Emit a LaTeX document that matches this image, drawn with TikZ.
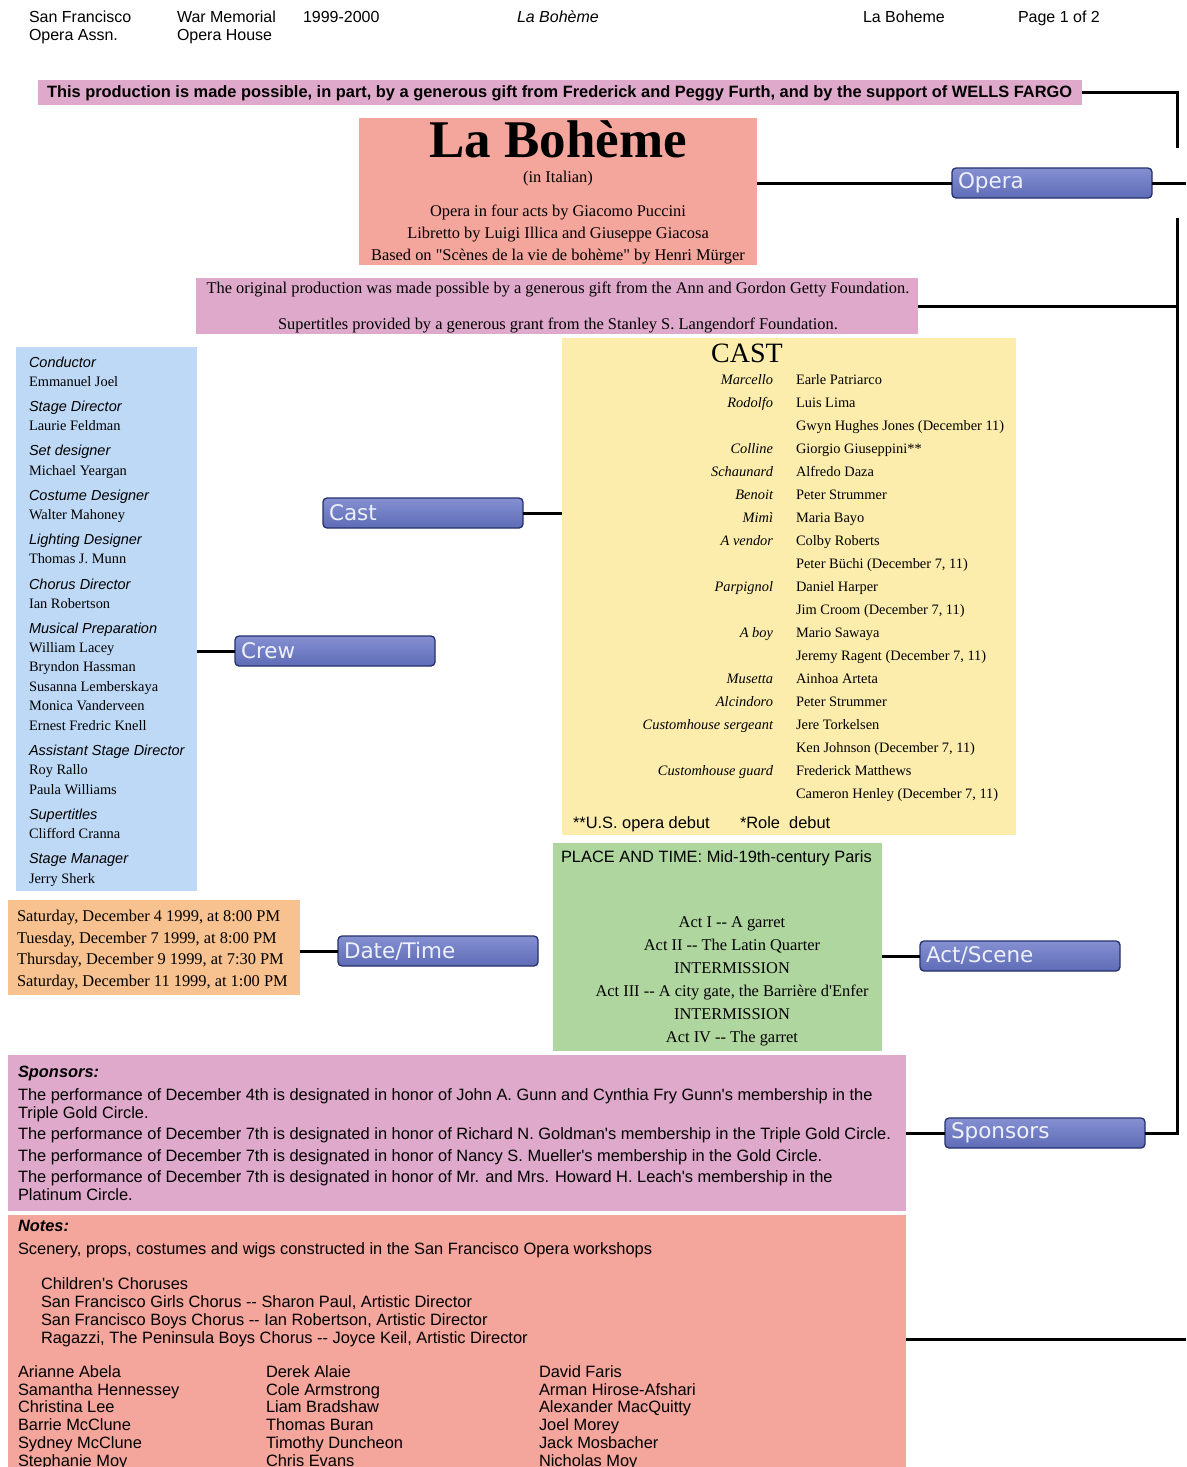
\documentclass[tikz,border=0pt]{standalone}
\usepackage{fontspec}
\setmainfont{Liberation Serif}
\setsansfont{Liberation Sans}
\newfontfamily\btnfont{DejaVu Sans}
\definecolor{pinkc}{HTML}{DEA9CA}
\definecolor{salmonc}{HTML}{F4A59C}
\definecolor{bluec}{HTML}{BED9F6}
\definecolor{yellowc}{HTML}{FCEDAD}
\definecolor{orangec}{HTML}{F7C28F}
\definecolor{greenc}{HTML}{B0D6A0}
\definecolor{btnhi}{HTML}{8590D2}
\definecolor{btnlo}{HTML}{5E6CB6}
\definecolor{btnedge}{HTML}{26316C}
\definecolor{btntext}{HTML}{EEF0FA}
\newcommand\fhd{\sffamily\fontsize{16}{16}\selectfont}
\newcommand\fban{\sffamily\bfseries\fontsize{16.4}{16.4}\selectfont}
\newcommand\fser{\rmfamily\fontsize{16.4}{16.4}\selectfont}
\newcommand\fsm{\rmfamily\fontsize{14.4}{14.4}\selectfont}
\newcommand\fsl{\sffamily\itshape\fontsize{14.5}{14.5}\selectfont}
\newcommand\fss{\sffamily\fontsize{16.4}{16.4}\selectfont}
\newcommand\qq{\textquotedbl}
\newcommand\ap{\textquotesingle}
\tikzset{
  box/.style={anchor=north west, inner sep=0pt, outer sep=0pt, draw=none},
  btn/.style={anchor=north west, draw=btnedge, line width=1.3pt, rounded corners=4pt,
    top color=btnhi, bottom color=btnlo, minimum height=30pt, text width=188pt,
    inner xsep=6pt, inner ysep=0pt, align=left, text=btntext, outer sep=0pt,
    font=\btnfont\fontsize{21.5}{21.5}\selectfont},
  conn/.style={line width=3pt, black},
  tl/.style={anchor=base west, inner sep=0pt, outer sep=0pt},
  tc/.style={anchor=base, inner sep=0pt, outer sep=0pt},
  tr/.style={anchor=base east, inner sep=0pt, outer sep=0pt},
  hd/.style={tl, font=\fhd},
  crewlab/.style={tl, font=\fsl},
  crewnm/.style={tl, font=\fsm},
  castrole/.style={tr, font=\fsm\itshape},
  castnm/.style={tl, font=\fsm},
  ss/.style={tl, font=\fss},
}
\begin{document}
\begin{tikzpicture}[x=1pt,y=-1pt]
\useasboundingbox (0,0) rectangle (1186,1467);
\fill[white] (0,0) rectangle (1186,1467);

% header
\node[hd] (h1) at (29,22) {San Francisco};
\node[hd] (h1b) at (29,40) {Opera Assn.};
\node[hd] (h2) at (177,22) {War Memorial};
\node[hd] (h2b) at (177,40) {Opera House};
\node[hd] (h3) at (303,22) {1999-2000};
\node[hd] (h4) at (517,22) {\itshape La Bohème};
\node[hd] (h5) at (863,22) {La Boheme};
\node[hd] (h6) at (1018,22) {Page 1 of 2};

% boxes
\node[box, fill=pinkc, minimum width=1044pt, minimum height=25pt] (banner) at (38,80) {};
\node[box, fill=salmonc, minimum width=398pt, minimum height=147pt] (title) at (359,118) {};
\node[box, fill=pinkc, minimum width=722pt, minimum height=56pt] (orig) at (196,278) {};
\node[box, fill=bluec, minimum width=181pt, minimum height=544pt] (crewbox) at (16,347) {};
\node[box, fill=yellowc, minimum width=454pt, minimum height=497pt] (castbox) at (562,338) {};
\node[box, fill=orangec, minimum width=292pt, minimum height=95pt] (datebox) at (8,900) {};
\node[box, fill=greenc, minimum width=329pt, minimum height=208pt] (actbox) at (553,843) {};
\node[box, fill=pinkc, minimum width=898pt, minimum height=156pt] (spbox) at (8,1055) {};
\node[box, fill=salmonc, minimum width=898pt, minimum height=252pt] (notesbox) at (8,1215) {};

% buttons
\node[btn] (opera) at (952,168) {Opera};
\node[btn] (cast) at (323,498) {Cast};
\node[btn] (crew) at (235,636) {Crew};
\node[btn] (date) at (338,936) {Date/Time};
\node[btn] (act) at (920,941) {Act/Scene};
\node[btn] (sponsors) at (945,1118) {Sponsors};

% connectors
\coordinate (rt1) at (1177,148);
\coordinate (rtop) at (1177,218);
\coordinate (redge) at (1186,183);
\coordinate (nedge) at (1186,1339);
\draw[conn] (banner.east) -| (rt1);
\draw[conn] (opera.west -| title.east) -- (opera.west);
\draw[conn] (opera.east) -- (redge);
\draw[conn] (rtop) |- (sponsors.east);
\draw[conn] (orig.east) -- (orig.east -| rtop);
\draw[conn] (spbox.east |- sponsors.west) -- (sponsors.west);
\draw[conn] (notesbox.east |- nedge) -- (nedge);
\draw[conn] (crewbox.east |- crew.west) -- (crew.west);
\draw[conn] (cast.east) -- (castbox.west |- cast.east);
\draw[conn] (datebox.east |- date.west) -- (date.west);
\draw[conn] (actbox.east |- act.west) -- (act.west);

% banner text
\node[tl, font=\fban] (bantext) at (47,97) {This production is made possible, in part, by a generous gift from Frederick and Peggy Furth, and by the support of WELLS FARGO};

% title text
\node[tc, font=\rmfamily\bfseries\fontsize{53}{53}\selectfont] (ttl) at (558,157) {La Bohème};
\node[tc, font=\fser] (ttl2) at (558,182) {(in Italian)};
\node[tc, font=\fser] (ttl3) at (558,216) {Opera in four acts by Giacomo Puccini};
\node[tc, font=\fser] (ttl4) at (558,238) {Libretto by Luigi Illica and Giuseppe Giacosa};
\node[tc, font=\fser] (ttl5) at (558,260) {Based on \qq Scènes de la vie de bohème\qq{} by Henri Mürger};

% original production
\node[tc, font=\fser] (or1) at (558,293) {The original production was made possible by a generous gift from the Ann and Gordon Getty Foundation.};
\node[tc, font=\fser] (or2) at (558,329) {Supertitles provided by a generous grant from the Stanley S. Langendorf Foundation.};

% crew
\node[crewlab] (cr1) at (29,367) {Conductor};
\node[crewnm] (cr2) at (29,386) {Emmanuel Joel};
\node[crewlab] (cr3) at (29,411) {Stage Director};
\node[crewnm] (cr4) at (29,430) {Laurie Feldman};
\node[crewlab] (cr5) at (29,455) {Set designer};
\node[crewnm] (cr6) at (29,475) {Michael Yeargan};
\node[crewlab] (cr7) at (29,500) {Costume Designer};
\node[crewnm] (cr8) at (29,519) {Walter Mahoney};
\node[crewlab] (cr9) at (29,544) {Lighting Designer};
\node[crewnm] (cr10) at (29,563) {Thomas J. Munn};
\node[crewlab] (cr11) at (29,589) {Chorus Director};
\node[crewnm] (cr12) at (29,608) {Ian Robertson};
\node[crewlab] (cr13) at (29,633) {Musical Preparation};
\node[crewnm] (cr14) at (29,652) {William Lacey};
\node[crewnm] (cr15) at (29,671) {Bryndon Hassman};
\node[crewnm] (cr16) at (29,691) {Susanna Lemberskaya};
\node[crewnm] (cr17) at (29,710) {Monica Vanderveen};
\node[crewnm] (cr18) at (29,730) {Ernest Fredric Knell};
\node[crewlab] (cr19) at (29,755) {Assistant Stage Director};
\node[crewnm] (cr20) at (29,774) {Roy Rallo};
\node[crewnm] (cr21) at (29,794) {Paula Williams};
\node[crewlab] (cr22) at (29,819) {Supertitles};
\node[crewnm] (cr23) at (29,838) {Clifford Cranna};
\node[crewlab] (cr24) at (29,863) {Stage Manager};
\node[crewnm] (cr25) at (29,883) {Jerry Sherk};

% cast
\node[tc, font=\rmfamily\fontsize{28}{28}\selectfont] (casttitle) at (747,362) {CAST};
\node[castrole] (r1) at (773,384) {Marcello};
\node[castrole] (r2) at (773,407) {Rodolfo};
\node[castrole] (r4) at (773,453) {Colline};
\node[castrole] (r5) at (773,476) {Schaunard};
\node[castrole] (r6) at (773,499) {Benoit};
\node[castrole] (r7) at (773,522) {Mimì};
\node[castrole] (r8) at (773,545) {A vendor};
\node[castrole] (r10) at (773,591) {Parpignol};
\node[castrole] (r12) at (773,637) {A boy};
\node[castrole] (r14) at (773,683) {Musetta};
\node[castrole] (r15) at (773,706) {Alcindoro};
\node[castrole] (r16) at (773,729) {Customhouse sergeant};
\node[castrole] (r18) at (773,775) {Customhouse guard};
\node[castnm] (n1) at (796,384) {Earle Patriarco};
\node[castnm] (n2) at (796,407) {Luis Lima};
\node[castnm] (n3) at (796,430) {Gwyn Hughes Jones (December 11)};
\node[castnm] (n4) at (796,453) {Giorgio Giuseppini**};
\node[castnm] (n5) at (796,476) {Alfredo Daza};
\node[castnm] (n6) at (796,499) {Peter Strummer};
\node[castnm] (n7) at (796,522) {Maria Bayo};
\node[castnm] (n8) at (796,545) {Colby Roberts};
\node[castnm] (n9) at (796,568) {Peter Büchi (December 7, 11)};
\node[castnm] (n10) at (796,591) {Daniel Harper};
\node[castnm] (n11) at (796,614) {Jim Croom (December 7, 11)};
\node[castnm] (n12) at (796,637) {Mario Sawaya};
\node[castnm] (n13) at (796,660) {Jeremy Ragent (December 7, 11)};
\node[castnm] (n14) at (796,683) {Ainhoa Arteta};
\node[castnm] (n15) at (796,706) {Peter Strummer};
\node[castnm] (n16) at (796,729) {Jere Torkelsen};
\node[castnm] (n17) at (796,752) {Ken Johnson (December 7, 11)};
\node[castnm] (n18) at (796,775) {Frederick Matthews};
\node[castnm] (n19) at (796,798) {Cameron Henley (December 7, 11)};
\node[ss] (cf1) at (573,828) {**U.S. opera debut};
\node[ss] (cf2) at (740,828) {*Role\ \ debut};

% date/time
\node[tl, font=\fser] (d1) at (17,921) {Saturday, December 4 1999, at 8:00 PM};
\node[tl, font=\fser] (d2) at (17,943) {Tuesday, December 7 1999, at 8:00 PM};
\node[tl, font=\fser] (d3) at (17,964) {Thursday, December 9 1999, at 7:30 PM};
\node[tl, font=\fser] (d4) at (17,986) {Saturday, December 11 1999, at 1:00 PM};

% act/scene
\node[ss] (pl) at (561,862) {PLACE AND TIME:\ Mid-19th-century Paris};
\node[tc, font=\fser] (a1) at (732,927) {Act I -{}- A garret};
\node[tc, font=\fser] (a2) at (732,950) {Act II -{}- The Latin Quarter};
\node[tc, font=\fser] (a3) at (732,973) {INTERMISSION};
\node[tc, font=\fser] (a4) at (732,996) {Act III -{}- A city gate, the Barrière d\ap Enfer};
\node[tc, font=\fser] (a5) at (732,1019) {INTERMISSION};
\node[tc, font=\fser] (a6) at (732,1042) {Act IV -{}- The garret};

% sponsors
\node[ss, font=\fss\bfseries\itshape] (sp0) at (18,1077) {Sponsors:};
\node[ss] (sp1) at (18,1100) {The performance of December 4th is designated in honor of John A. Gunn and Cynthia Fry Gunn\ap s membership in the};
\node[ss] (sp1b) at (18,1118) {Triple Gold Circle.};
\node[ss] (sp2) at (18,1139) {The performance of December 7th is designated in honor of Richard N. Goldman\ap s membership in the Triple Gold Circle.};
\node[ss] (sp3) at (18,1161) {The performance of December 7th is designated in honor of Nancy S. Mueller\ap s membership in the Gold Circle.};
\node[ss] (sp4) at (18,1182) {The performance of December 7th is designated in honor of Mr. and Mrs. Howard H. Leach\ap s membership in the};
\node[ss] (sp4b) at (18,1200) {Platinum Circle.};

% notes
\node[ss, font=\fss\bfseries\itshape] (nt0) at (18,1231) {Notes:};
\node[ss] (nt1) at (18,1254) {Scenery, props, costumes and wigs constructed in the San Francisco Opera workshops};
\node[ss] (nt2) at (41,1289) {Children\ap s Choruses};
\node[ss] (nt3) at (41,1307) {San Francisco Girls Chorus -{}- Sharon Paul, Artistic Director};
\node[ss] (nt4) at (41,1325) {San Francisco Boys Chorus -{}- Ian Robertson, Artistic Director};
\node[ss] (nt5) at (41,1343) {Ragazzi, The Peninsula Boys Chorus -{}- Joyce Keil, Artistic Director};
\node[ss] (c11) at (18,1377) {Arianne Abela};
\node[ss] (c12) at (18,1395) {Samantha Hennessey};
\node[ss] (c13) at (18,1412) {Christina Lee};
\node[ss] (c14) at (18,1430) {Barrie McClune};
\node[ss] (c15) at (18,1448) {Sydney McClune};
\node[ss] (c16) at (18,1466) {Stephanie Moy};
\node[ss] (c21) at (266,1377) {Derek Alaie};
\node[ss] (c22) at (266,1395) {Cole Armstrong};
\node[ss] (c23) at (266,1412) {Liam Bradshaw};
\node[ss] (c24) at (266,1430) {Thomas Buran};
\node[ss] (c25) at (266,1448) {Timothy Duncheon};
\node[ss] (c26) at (266,1466) {Chris Evans};
\node[ss] (c31) at (539,1377) {David Faris};
\node[ss] (c32) at (539,1395) {Arman Hirose-Afshari};
\node[ss] (c33) at (539,1412) {Alexander MacQuitty};
\node[ss] (c34) at (539,1430) {Joel Morey};
\node[ss] (c35) at (539,1448) {Jack Mosbacher};
\node[ss] (c36) at (539,1466) {Nicholas Moy};
\end{tikzpicture}
\end{document}
